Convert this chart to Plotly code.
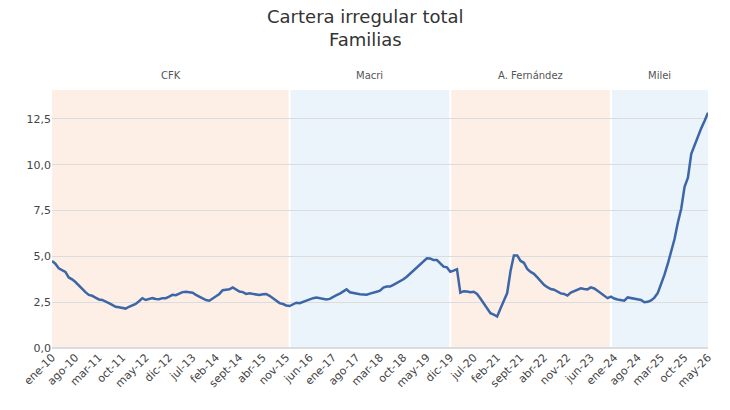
import plotly.graph_objects as go

values = [
    4.75, 4.6, 4.35, 4.25, 4.15, 3.85, 3.75, 3.6, 3.4, 3.25,
    3.05, 2.9, 2.85, 2.75, 2.65, 2.62, 2.55, 2.45, 2.35, 2.25,
    2.22, 2.2, 2.15, 2.25, 2.32, 2.4, 2.55, 2.72, 2.62, 2.68,
    2.72, 2.68, 2.66, 2.72, 2.72, 2.8, 2.9, 2.88, 2.95, 3.05,
    3.07, 3.05, 3.02, 2.9, 2.8, 2.72, 2.62, 2.58, 2.68, 2.82,
    2.95, 3.15, 3.18, 3.2, 3.31, 3.18, 3.08, 3.05, 2.95, 2.98,
    2.95, 2.9, 2.89, 2.93, 2.95, 2.85, 2.72, 2.6, 2.45, 2.4,
    2.32, 2.29, 2.4, 2.47, 2.44, 2.52, 2.58, 2.65, 2.72, 2.75,
    2.73, 2.71, 2.65, 2.68, 2.8, 2.88, 2.97, 3.08, 3.2, 3.04,
    3.0, 2.95, 2.93, 2.92, 2.91, 2.97, 3.04, 3.07, 3.13, 3.3,
    3.35, 3.35, 3.45, 3.55, 3.62, 3.75, 3.89, 4.05, 4.25, 4.42,
    4.53, 4.7, 4.89, 4.88, 4.8, 4.8, 4.6, 4.44, 4.4, 4.16,
    4.22, 4.3, 3.02, 3.1, 3.08, 3.04, 3.07, 2.95, 2.7, 2.45,
    2.2, 1.9, 1.82, 1.72, 2.15, 2.55, 3.0, 4.2, 5.05, 5.05,
    4.75, 4.65, 4.31, 4.15, 4.05, 3.85, 3.65, 3.45, 3.32, 3.22,
    3.18, 3.08, 2.98, 2.95, 2.86, 3.02, 3.1, 3.15, 3.26, 3.22,
    3.2, 3.31, 3.25, 3.12, 3.0, 2.85, 2.72, 2.8, 2.7, 2.65,
    2.62, 2.58, 2.76, 2.72, 2.68, 2.66, 2.62, 2.5, 2.52, 2.6,
    2.75, 3.0, 3.45, 4.0, 4.6, 5.25, 5.95, 6.85, 7.6, 8.8,
    9.3, 10.6, 11.1, 11.55, 12.0, 12.4, 12.84,
]

month_abbr = ["ene", "feb", "mar", "abr", "may", "jun", "jul", "ago", "sept", "oct", "nov", "dic"]
start_year = 2010
months = [f"{month_abbr[i % 12]}-{(start_year + i // 12) % 100:02d}" for i in range(len(values))]

tick_step = 7

periods = ["CFK", "Macri", "A. Fernández", "Milei"]
period_bounds = [0, 71, 119, 167, 196]
period_colors = ["#fdefe6", "#ebf3fb", "#fdefe6", "#ebf3fb"]

title_text = "Cartera irregular total<br>Familias"

x_idx = list(range(len(values)))

fig = go.Figure()
fig.add_trace(go.Scatter(
    x=x_idx, y=values, mode="lines",
    line=dict(color="#3d66a8", width=2.5),
    hoverinfo="skip", showlegend=False,
))

for i, name in enumerate(periods):
    x0, x1 = period_bounds[i], period_bounds[i + 1]
    fig.add_shape(type="rect", xref="x", yref="paper", x0=x0, x1=x1, y0=0, y1=1,
                  fillcolor=period_colors[i], line=dict(width=0), layer="below")
    fig.add_annotation(x=(x0 + x1) / 2, y=1.058, xref="x", yref="paper",
                       text=name, showarrow=False,
                       font=dict(size=10, color="#555555", family="DejaVu Sans"),
                       yanchor="middle")

for b in period_bounds[1:-1]:
    fig.add_shape(type="line", xref="x", yref="paper", x0=b, x1=b, y0=0, y1=1,
                  line=dict(color="white", width=2), layer="below")

fig.add_annotation(x=0.5, y=1.0, xref="paper", yref="paper",
                   xanchor="center", yanchor="middle",
                   text=title_text, showarrow=False,
                   font=dict(size=18, color="#333333", family="DejaVu Sans"))

tickvals = x_idx[::tick_step]
ticktext = [months[i] for i in tickvals]

fig.update_layout(
    width=730, height=410,
    margin=dict(l=52, r=22, t=90, b=62),
    paper_bgcolor="white", plot_bgcolor="white",
    separators=",.",
    font=dict(family="DejaVu Sans", color="#444444", size=11),
    xaxis=dict(range=[0, len(values) - 1], tickvals=tickvals, ticktext=ticktext,
               tickangle=-45, showgrid=False, zeroline=False, showline=False,
               ticks="", tickfont=dict(size=11, color="#444444")),
    yaxis=dict(range=[0, 14.08], tickvals=[0, 2.5, 5, 7.5, 10, 12.5],
               tickformat=".1f", showgrid=True, gridcolor="#dcdcdc", gridwidth=1,
               zeroline=True, zerolinecolor="#dcdcdc", showline=False, ticks="",
               tickfont=dict(size=11, color="#444444")),
)
# Place title centered over the whole figure at the top
fig.layout.annotations[-1].update(xref="paper", x=(365 - 52) / 656, yref="paper",
                                  y=(348 - 28) / 258)

fig.write_html("out.html")
